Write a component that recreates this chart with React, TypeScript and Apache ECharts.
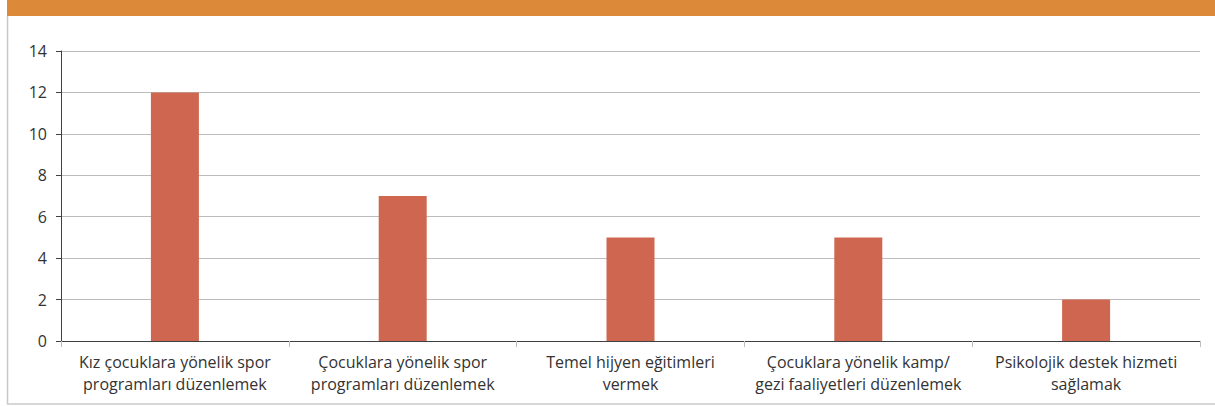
import React, { useEffect, useRef } from "react";
import * as echarts from "echarts";

const categories = [
  "Kız çocuklara yönelik spor\nprogramları düzenlemek",
  "Çocuklara yönelik spor\nprogramları düzenlemek",
  "Temel hijyen eğitimleri\nvermek",
  "Çocuklara yönelik kamp/\ngezi faaliyetleri düzenlemek",
  "Psikolojik destek hizmeti\nsağlamak",
];
const values = [12, 7, 5, 5, 2];

export default function App() {
  const ref = useRef<HTMLDivElement>(null);
  useEffect(() => {
    const chart = echarts.init(ref.current!, null, { renderer: "svg" });
    chart.setOption({
      animation: false,
      textStyle: { fontFamily: "Open Sans" },
      graphic: [
        { type: "rect", shape: { x: 7, y: 0, width: 1208, height: 16 }, style: { fill: "#DC8A3A" } },
        { type: "line", shape: { x1: 7.5, y1: 16, x2: 7.5, y2: 404 }, style: { stroke: "#c8c8c8", lineWidth: 1.5 } },
        { type: "line", shape: { x1: 7, y1: 404, x2: 1215, y2: 404 }, style: { stroke: "#c8c8c8", lineWidth: 1.5 } },
      ],
      grid: { left: 61, right: 15, top: 51, bottom: 65, containLabel: false },
      xAxis: {
        type: "category",
        data: categories,
        axisLine: { lineStyle: { color: "#404040", width: 1 } },
        axisTick: { show: true, length: 6, lineStyle: { color: "#bfbfbf" } },
        axisLabel: { color: "#333333", fontSize: 16, lineHeight: 22, margin: 10, interval: 0 },
      },
      yAxis: {
        type: "value",
        min: 0,
        max: 14,
        interval: 2,
        axisLine: { show: true, lineStyle: { color: "#404040", width: 1 } },
        axisTick: { show: true, length: 5, lineStyle: { color: "#404040" } },
        axisLabel: { color: "#333333", fontSize: 16, margin: 14 },
        splitLine: { lineStyle: { color: "#bcbcbc", width: 1 } },
      },
      series: [
        {
          type: "bar",
          data: values,
          barWidth: 48,
          itemStyle: { color: "#CF6750" },
        },
      ],
    });
    return () => chart.dispose();
  }, []);
  return (
    <div
      ref={ref}
      style={{ position: "fixed", left: 0, top: 0, width: 1215, height: 406, background: "#fff" }}
    />
  );
}
